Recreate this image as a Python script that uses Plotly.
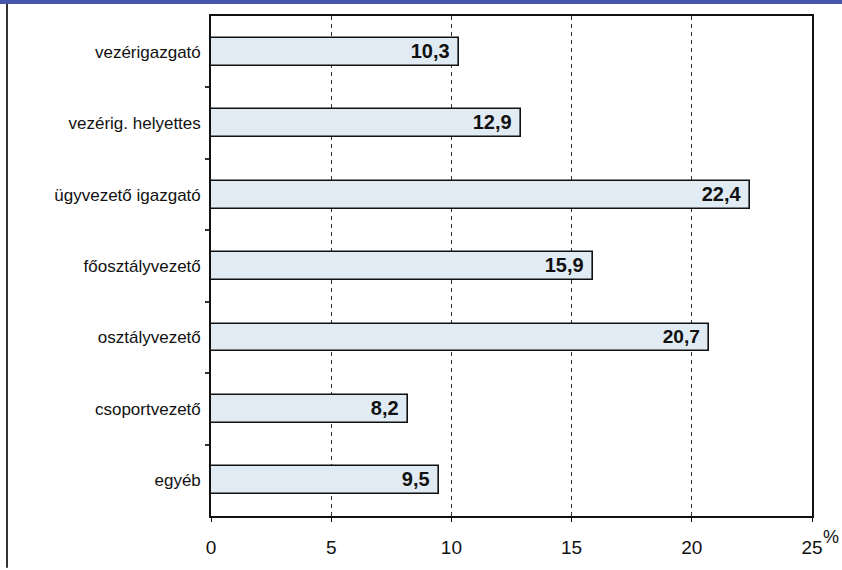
import plotly.graph_objects as go

# Share of respondents by position (%)
positions = [
    "vezérigazgató",
    "vezérig. helyettes",
    "ügyvezető igazgató",
    "főosztályvezető",
    "osztályvezető",
    "csoportvezető",
    "egyéb",
]
shares = [10.3, 12.9, 22.4, 15.9, 20.7, 8.2, 9.5]
x_ticks = [0, 5, 10, 15, 20, 25]

W, H = 842, 570
L, R, T, B = 211, 30, 16, 52
pw, ph = W - L - R, H - T - B

def px_x(p):
    return (p - L) / pw

def px_y(p):
    return (H - B - p) / ph

ypos = list(range(len(positions)))

fig = go.Figure(
    go.Bar(
        x=shares,
        y=ypos,
        orientation="h",
        width=0.39,
        marker=dict(color="#e1ebf3", line=dict(color="#111111", width=1.6)),
        texttemplate="%{x:.1f} ",
        textposition="inside",
        insidetextanchor="end",
        textfont=dict(family="Liberation Sans", size=20, color="#111111", weight="bold"),
        cliponaxis=False,
        hoverinfo="skip",
    )
)

fig.update_layout(
    width=W,
    height=H,
    margin=dict(l=L, r=R, t=T, b=B),
    paper_bgcolor="white",
    plot_bgcolor="white",
    separators=", ",
    showlegend=False,
    font=dict(family="Liberation Sans", color="#111111"),
    bargap=0,
)

fig.update_xaxes(
    range=[0, 25],
    tickvals=x_ticks,
    ticktext=[str(v) for v in x_ticks],
    tickfont=dict(size=19),
    ticks="outside",
    ticklen=4,
    tickcolor="#111111",
    ticklabelstandoff=9,
    showline=True,
    linecolor="#111111",
    linewidth=1.6,
    mirror=True,
    showgrid=True,
    gridcolor="#333333",
    griddash="4px,4px",
    gridwidth=1,
    zeroline=False,
    fixedrange=True,
)

fig.update_yaxes(
    range=[len(positions) - 0.5, -0.5],
    tickvals=ypos,
    ticktext=positions,
    tickfont=dict(size=17),
    ticks="",
    ticklabelstandoff=5,
    showline=True,
    linecolor="#111111",
    linewidth=1.6,
    mirror=True,
    showgrid=False,
    zeroline=False,
    minor=dict(
        tickvals=[i + 0.5 for i in ypos[:-1]],
        ticks="outside",
        ticklen=4,
        tickcolor="#333333",
        tickwidth=1.5,
        showgrid=False,
    ),
    fixedrange=True,
)

# unit label at the end of the value axis
fig.add_annotation(
    text="%", xref="paper", yref="paper",
    x=px_x(821), y=px_y(539), xanchor="left", yanchor="middle",
    showarrow=False, font=dict(size=18, color="#111111"),
)

# page frame: blue strip at the top and a rule on the left
fig.add_shape(type="rect", xref="paper", yref="paper",
              x0=px_x(0), x1=px_x(W), y0=px_y(4), y1=px_y(0),
              fillcolor="#4656a8", line=dict(width=0), layer="above")
fig.add_shape(type="line", xref="paper", yref="paper",
              x0=px_x(7), x1=px_x(7), y0=px_y(4), y1=px_y(H),
              line=dict(color="#333333", width=2))

fig.write_html("out.html")
